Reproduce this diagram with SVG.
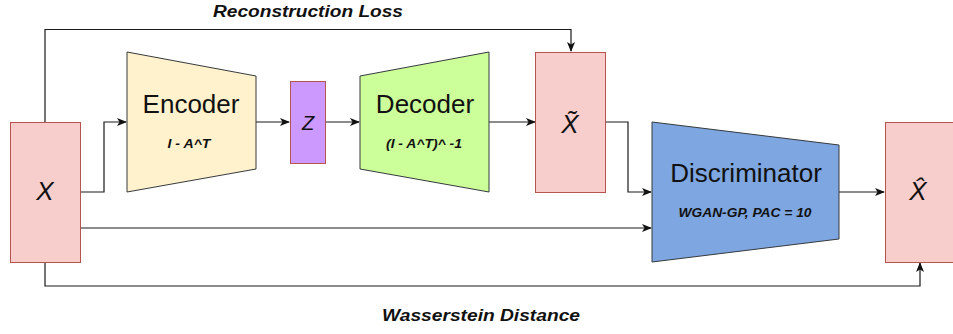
<svg xmlns="http://www.w3.org/2000/svg" width="953" height="334" viewBox="0 0 953 334">
<style>
.box{fill:#f8cecc;stroke:#b85450;stroke-width:1}
.trap{stroke:#36393d;stroke-width:1}
.edge{fill:none;stroke:#1a1a1a;stroke-width:1.2}
.big{font-family:"Liberation Sans",Arial,sans-serif;font-size:26px;fill:#111;text-anchor:middle}
.var{font-family:"Liberation Sans",Arial,sans-serif;font-style:italic;fill:#111;text-anchor:middle}
.sub{font-family:"Liberation Sans",Arial,sans-serif;font-style:italic;font-weight:bold;font-size:13px;fill:#111;text-anchor:middle}
.lbl{font-family:"Liberation Sans",Arial,sans-serif;font-style:italic;font-weight:bold;font-size:16px;fill:#111;text-anchor:middle}
</style>
<defs>
<marker id="arr" viewBox="0 0 10 10" refX="9" refY="5" markerWidth="10" markerHeight="10" markerUnits="userSpaceOnUse" orient="auto">
<path d="M0,1 L10,5 L0,9 L2.5,5 Z" fill="#111"/>
</marker>
</defs>
<rect width="953" height="334" fill="#fff"/>
<g id="connectors">
<path class="edge" d="M45,122 V29.5 H571 V51" marker-end="url(#arr)"/>
<path class="edge" d="M81,192 H104 V122 H126" marker-end="url(#arr)"/>
<path class="edge" d="M256,122 H289" marker-end="url(#arr)"/>
<path class="edge" d="M326,122 H359" marker-end="url(#arr)"/>
<path class="edge" d="M489,122 H535" marker-end="url(#arr)"/>
<path class="edge" d="M606,122 H628 V192 H651" marker-end="url(#arr)"/>
<path class="edge" d="M81,228 H651" marker-end="url(#arr)"/>
<path class="edge" d="M839,192 H884" marker-end="url(#arr)"/>
<path class="edge" d="M45,262 V286 H920 V263" marker-end="url(#arr)"/>
</g>
<g id="x">
<rect class="box" x="10.5" y="122.5" width="70" height="140"/>
<text class="var" x="45" y="200" font-size="26">X</text>
</g>
<g id="encoder">
<polygon class="trap" fill="#fff2cc" points="127,52 256,76 256,169 127,192"/>
<text class="big" x="191" y="113">Encoder</text>
<text class="sub" x="189" y="148" textLength="43" lengthAdjust="spacingAndGlyphs">I - A^T</text>
</g>
<g id="z">
<rect x="290.5" y="81.5" width="35" height="82" fill="#cc99ff" stroke="#b85450"/>
<text class="var" x="308" y="130" font-size="20">Z</text>
</g>
<g id="decoder">
<polygon class="trap" fill="#ccff99" points="360,76 489,52 489,192 360,169"/>
<text class="big" x="425" y="113">Decoder</text>
<text class="sub" x="424" y="148" textLength="76" lengthAdjust="spacingAndGlyphs">(I - A^T)^ -1</text>
</g>
<g id="xtilde">
<rect class="box" x="535.5" y="52.5" width="70" height="140"/>
<text class="var" x="570" y="133" font-size="26">X̃</text>
</g>
<g id="discriminator">
<polygon class="trap" fill="#7ea6e0" points="652,122 839,145 839,239 652,262"/>
<text class="big" x="746" y="182">Discriminator</text>
<text class="sub" x="745" y="217" textLength="133" lengthAdjust="spacingAndGlyphs">WGAN-GP, PAC = 10</text>
</g>
<g id="xhat">
<rect class="box" x="885.5" y="122.5" width="70" height="140"/>
<text class="var" x="918" y="200" font-size="26">X̂</text>
</g>
<g id="labels">
<text class="lbl" x="308" y="17" textLength="190" lengthAdjust="spacingAndGlyphs">Reconstruction Loss</text>
<text class="lbl" x="481" y="321" textLength="198" lengthAdjust="spacingAndGlyphs">Wasserstein Distance</text>
</g>
</svg>
